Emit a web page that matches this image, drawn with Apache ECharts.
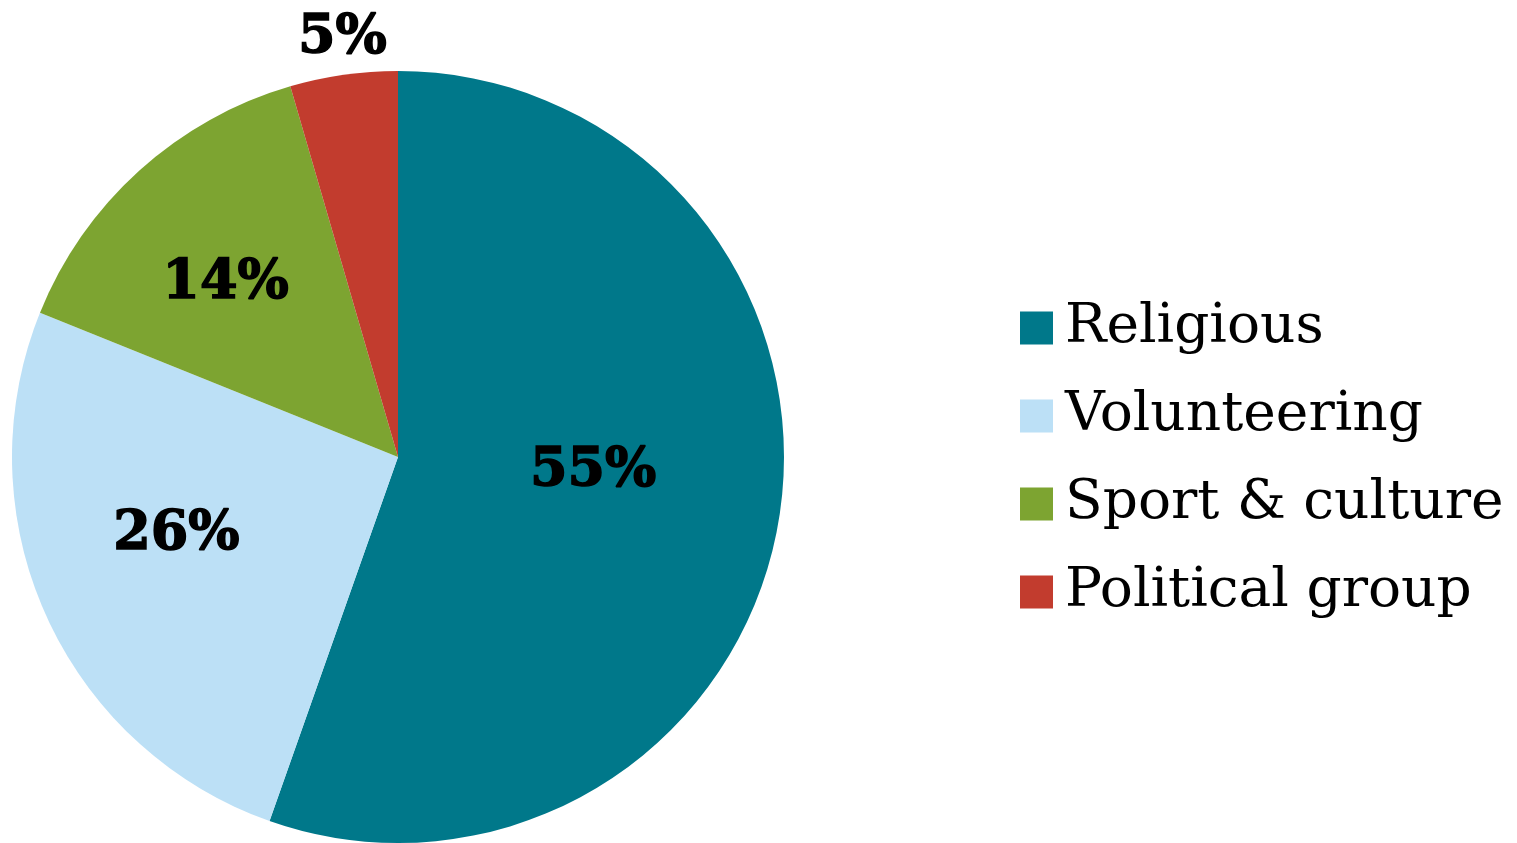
<!DOCTYPE html>
<html>
<head>
<meta charset="utf-8">
<script src="https://cdn.jsdelivr.net/npm/echarts@6/dist/echarts.min.js"></script>
<style>
  html, body { margin: 0; padding: 0; background: #fff; }
  #main { width: 1517px; height: 843px; }
</style>
</head>
<body>
<div id="main"></div>
<script>
// 数据（扇区角度按图读取，标签四舍五入显示）
var categories = ['Religious', 'Volunteering', 'Sport & culture', 'Political group'];
var shares = [55.4, 25.7, 14.4, 4.5];
var colors = ['#00788A', '#BCE0F6', '#7DA431', '#C23C2E'];
// 标签偏移（相对于扇区中点）
var labelOffsets = [[2, -18], [-43, -3], [-41, -28], [-28, -224]];

var chart = echarts.init(document.getElementById('main'));

var pieData = [];
for (var i = 0; i < categories.length; i++) {
    pieData.push({
        name: categories[i],
        value: shares[i],
        itemStyle: { color: colors[i] },
        label: { offset: labelOffsets[i] }
    });
}

var option = {
    animation: false,
    legend: {
        orient: 'vertical',
        left: 1015,
        top: 293,
        icon: 'rect',
        itemWidth: 33,
        itemHeight: 33,
        itemGap: 28,
        data: categories,
        textStyle: {
            fontFamily: 'DejaVu Serif',
            fontSize: 55,
            lineHeight: 60,
            color: '#000',
            padding: [0, 0, 0, 7]
        }
    },
    series: [{
        type: 'pie',
        center: [398, 457],
        radius: 386,
        startAngle: 90,
        clockwise: true,
        silent: true,
        label: {
            show: true,
            position: 'inside',
            formatter: function (p) { return Math.round(p.value) + '%'; },
            fontFamily: 'DejaVu Serif',
            fontWeight: 'bold',
            fontSize: 54,
            color: '#000',
            textBorderColor: '#000',
            textBorderWidth: 1.5
        },
        labelLine: { show: false },
        itemStyle: { borderWidth: 0 },
        data: pieData
    }]
};
chart.setOption(option);
</script>
</body>
</html>
